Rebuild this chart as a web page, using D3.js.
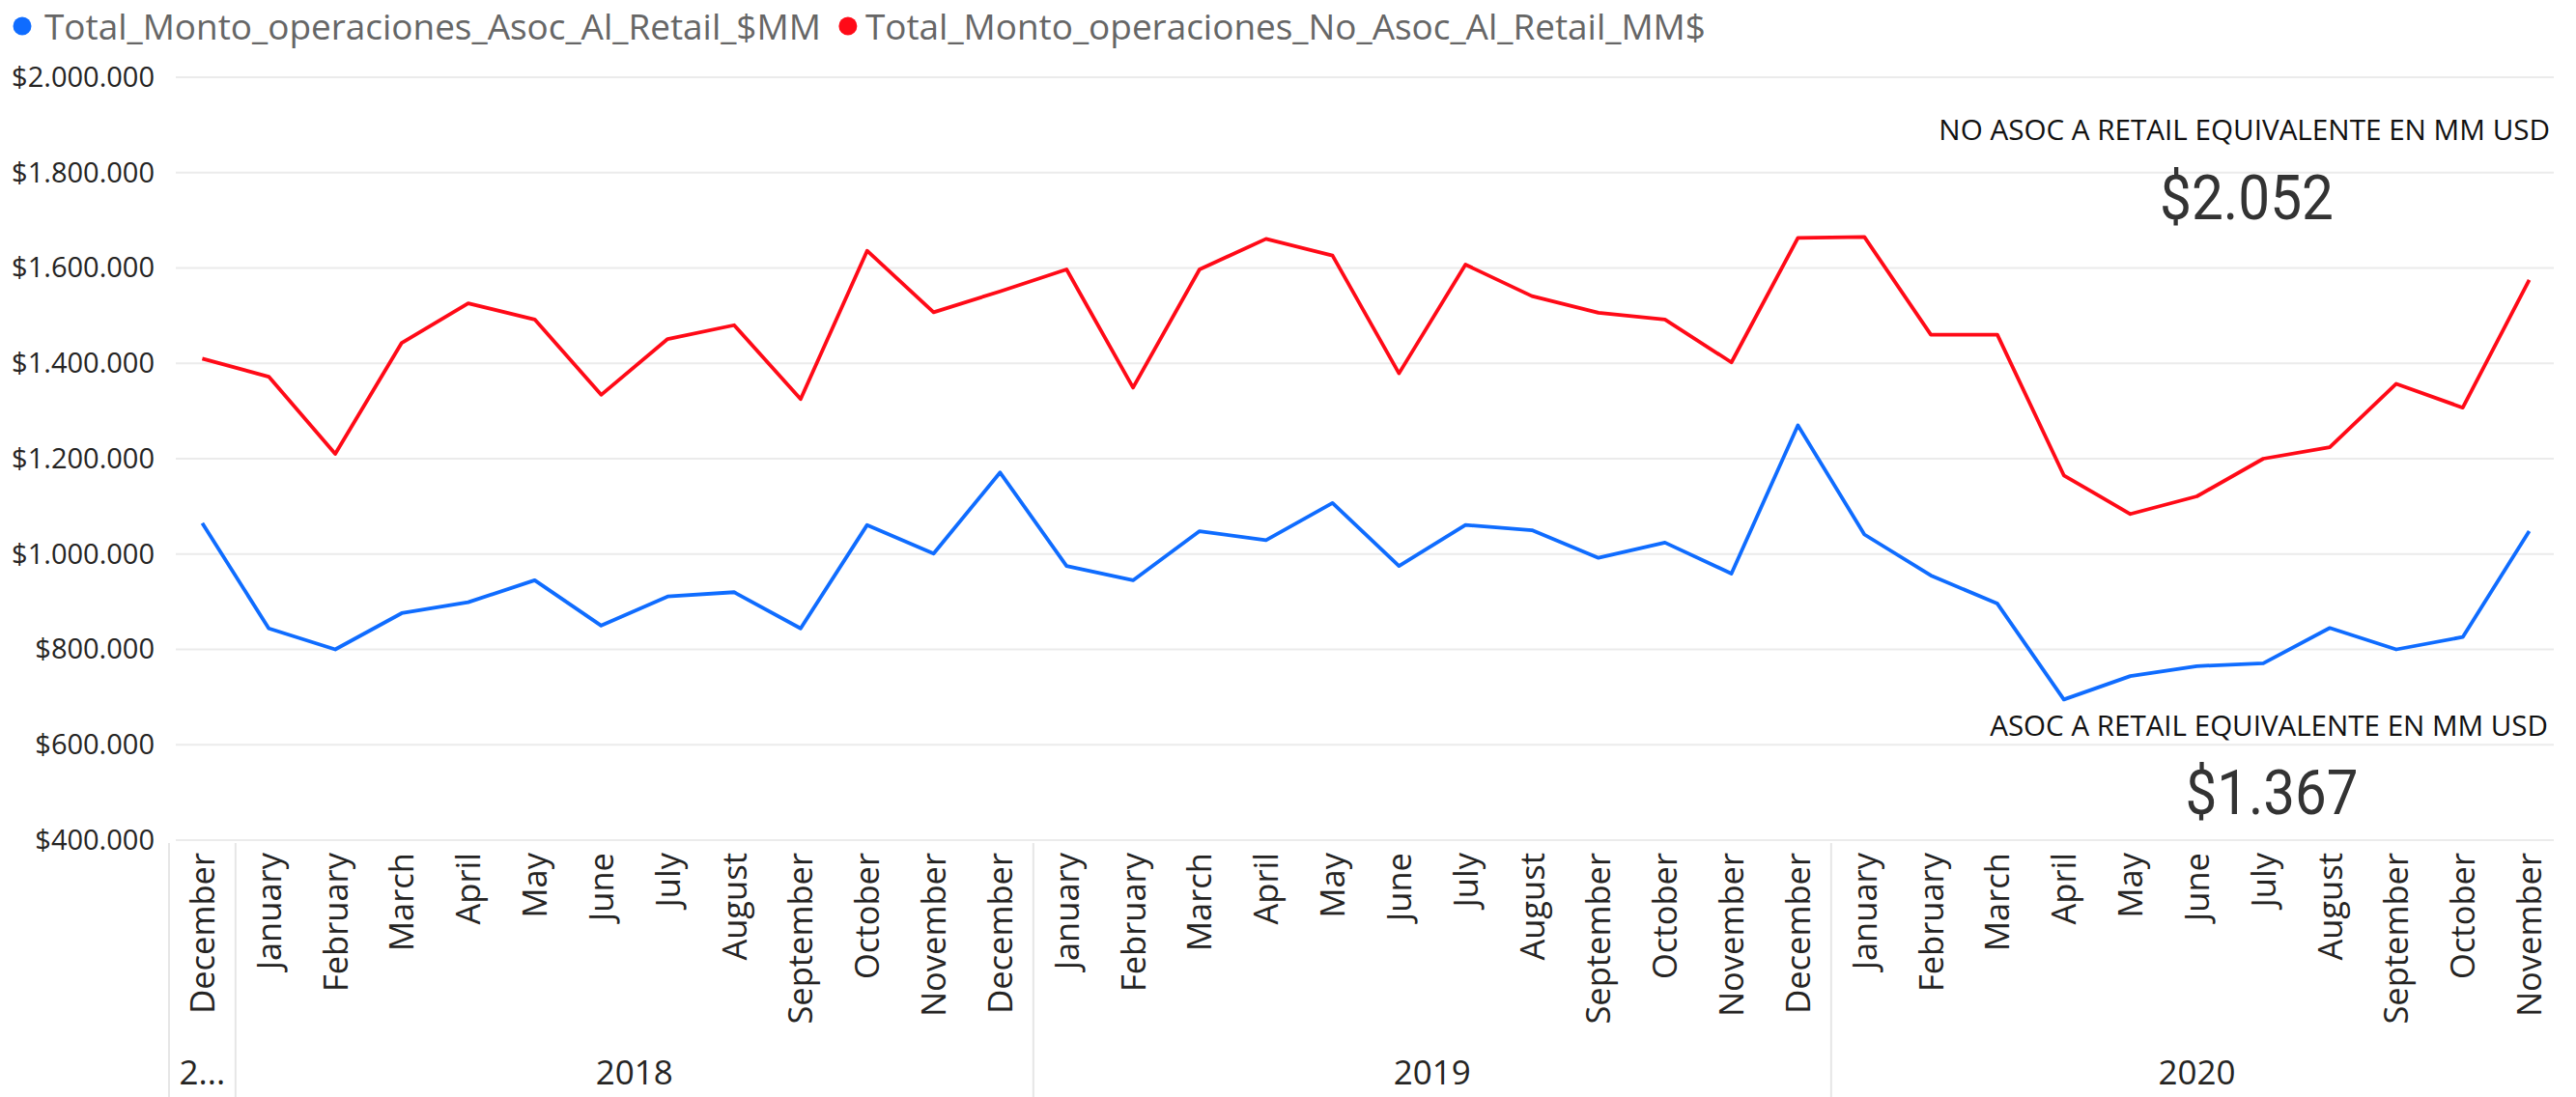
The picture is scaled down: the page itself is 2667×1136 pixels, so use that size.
<!DOCTYPE html>
<html>
<head>
<meta charset="utf-8">
<script src="https://cdnjs.cloudflare.com/ajax/libs/d3/7.8.5/d3.min.js"></script>
<style>
  body { margin: 0; background: #fff; }
  text { font-family: "Segoe UI", "Open Sans", sans-serif; }
</style>
</head>
<body>
<script>
//chart data
const monthLabels = [
  "December",
  "January", "February", "March", "April", "May", "June",
  "July", "August", "September", "October", "November", "December",
  "January", "February", "March", "April", "May", "June",
  "July", "August", "September", "October", "November", "December",
  "January", "February", "March", "April", "May", "June",
  "July", "August", "September", "October", "November"
];
const yearLabels = [
  "2017",
  "2018", "2018", "2018", "2018", "2018", "2018",
  "2018", "2018", "2018", "2018", "2018", "2018",
  "2019", "2019", "2019", "2019", "2019", "2019",
  "2019", "2019", "2019", "2019", "2019", "2019",
  "2020", "2020", "2020", "2020", "2020", "2020",
  "2020", "2020", "2020", "2020", "2020"
];
const asocRetail = [
  1065000,
  844000, 800000, 876000, 899000, 945000, 850000,
  911000, 920000, 844000, 1061000, 1001000, 1171000,
  975000, 945000, 1048000, 1029000, 1107000, 975000,
  1061000, 1050000, 992000, 1024000, 959000, 1270000,
  1041000, 955000, 896000, 695000, 744000, 765000,
  771000, 845000, 800000, 826000, 1048000
];
const noAsocRetail = [
  1410000,
  1372000, 1210000, 1443000, 1526000, 1492000, 1334000,
  1451000, 1480000, 1325000, 1636000, 1507000, 1551000,
  1597000, 1349000, 1597000, 1661000, 1626000, 1379000,
  1607000, 1541000, 1506000, 1492000, 1402000, 1663000,
  1665000, 1460000, 1460000, 1165000, 1084000, 1121000,
  1200000, 1224000, 1357000, 1307000, 1575000
];
const seriesNames = [
  "Total_Monto_operaciones_Asoc_Al_Retail_$MM",
  "Total_Monto_operaciones_No_Asoc_Al_Retail_MM$"
];
const yTicks = [400000, 600000, 800000, 1000000, 1200000, 1400000, 1600000, 1800000, 2000000];
const cardLabels = ["NO ASOC A RETAIL EQUIVALENTE EN MM USD", "ASOC A RETAIL EQUIVALENTE EN MM USD"];
const cardValues = [2052, 1367];

const colors = ["#0f6cff", "#ff0a17"];

//SVG setup
const width = 2667,
  height = 1136;
const plot = { left: 175, right: 2653, top: 80, bottom: 870, gridLeft: 182, gridRight: 2644 };

const svg = d3
  .select("body")
  .append("svg")
  .attr("width", width)
  .attr("height", height);

//spanish style number format
const locale = d3.formatLocale({ decimal: ",", thousands: ".", grouping: [3], currency: ["$", ""] });
const money = locale.format("$,.0f");

//scales
const idx = d3.range(monthLabels.length);
const x = d3.scaleBand().domain(idx).range([plot.left, plot.right]);
const y = d3.scaleLinear().domain([400000, 2000000]).range([plot.bottom, plot.top]);

//shrink or grow a text so it fills a given width
function fitWidth(sel, w) {
  const base = parseFloat(sel.style("font-size"));
  const len = sel.node().getComputedTextLength();
  sel.style("font-size", (base * w) / len + "px");
}

//gridlines
svg
  .append("g")
  .selectAll("line")
  .data(yTicks)
  .enter()
  .append("line")
  .attr("x1", plot.gridLeft)
  .attr("x2", plot.gridRight)
  .attr("y1", (d) => y(d))
  .attr("y2", (d) => y(d))
  .attr("stroke", "#ebebeb")
  .attr("stroke-width", 2);

//y axis
const yAxis = svg
  .append("g")
  .attr("transform", "translate(168,0)")
  .call(d3.axisLeft(y).tickValues(yTicks).tickFormat(money).tickSize(0).tickPadding(8));
yAxis.select(".domain").remove();
yAxis
  .selectAll("text")
  .style("font-family", '"Segoe UI", "Open Sans", sans-serif')
  .style("font-size", "29px")
  .attr("fill", "#252423");

//month labels
const xAxis = svg
  .append("g")
  .attr("transform", `translate(0, ${plot.bottom})`)
  .call(d3.axisBottom(x).tickFormat((i) => monthLabels[i]).tickSize(0));
xAxis.select(".domain").remove();
xAxis
  .selectAll("text")
  .style("font-family", '"Segoe UI", "Open Sans", sans-serif')
  .style("font-size", "34.5px")
  .attr("fill", "#252423")
  .attr("text-anchor", "end")
  .attr("transform", "rotate(-90)")
  .attr("x", -13)
  .attr("y", 0)
  .attr("dy", "0.36em");

//year groups
const yearGroups = d3.groups(idx, (i) => yearLabels[i]).map(([year, list]) => ({
  year: year,
  x0: x(list[0]),
  x1: x(list[list.length - 1]) + x.bandwidth()
}));

svg
  .append("g")
  .selectAll("line")
  .data(yearGroups)
  .enter()
  .append("line")
  .attr("x1", (d) => d.x0)
  .attr("x2", (d) => d.x0)
  .attr("y1", plot.bottom + 3)
  .attr("y2", height)
  .attr("stroke", "#e6e6e6")
  .attr("stroke-width", 2);

svg
  .append("g")
  .selectAll("text")
  .data(yearGroups)
  .enter()
  .append("text")
  .attr("x", (d) => (d.x0 + d.x1) / 2)
  .attr("y", 1123)
  .attr("text-anchor", "middle")
  .attr("fill", "#252423")
  .style("font-size", "35px")
  .text((d) => d.year)
  .each(function (d) {
    //truncate labels that do not fit their group
    const t = d3.select(this);
    let s = d.year;
    while (this.getComputedTextLength() > d.x1 - d.x0 - 20 && s.length > 1) {
      s = s.slice(0, -1);
      t.text(s + "...");
    }
  });

//lines
const line = d3
  .line()
  .x((d, i) => x(i) + x.bandwidth() / 2)
  .y((d) => y(d));

[asocRetail, noAsocRetail].forEach((values, k) => {
  svg
    .append("path")
    .datum(values)
    .attr("fill", "none")
    .attr("stroke", colors[k])
    .attr("stroke-width", 3.8)
    .attr("stroke-linejoin", "round")
    .attr("d", line);
});

//legend
const legend = svg.append("g");
const leg1 = legend
  .append("text")
  .attr("x", 46)
  .attr("y", 41)
  .attr("fill", "#666666")
  .style("font-size", "36px")
  .text(seriesNames[0]);
fitWidth(leg1, 804);
const leg1End = 46 + leg1.node().getComputedTextLength();
legend.append("circle").attr("cx", 23).attr("cy", 27).attr("r", 9.5).attr("fill", colors[0]);
legend
  .append("circle")
  .attr("cx", leg1End + 28)
  .attr("cy", 27)
  .attr("r", 9.5)
  .attr("fill", colors[1]);
legend
  .append("text")
  .attr("x", leg1End + 46)
  .attr("y", 41)
  .attr("fill", "#666666")
  .style("font-size", leg1.style("font-size"))
  .text(seriesNames[1]);

//cards
const cards = [
  { labelX: 2640, labelY: 145, labelW: 633, valueX: 2326, valueY: 227, valueW: 180 },
  { labelX: 2638, labelY: 762, labelW: 578, valueX: 2352, valueY: 843, valueW: 179 }
];
cards.forEach((c, k) => {
  const lab = svg
    .append("text")
    .attr("x", c.labelX)
    .attr("y", c.labelY)
    .attr("text-anchor", "end")
    .attr("fill", "#111")
    .style("font-size", "30px")
    .text(cardLabels[k]);
  fitWidth(lab, c.labelW);
  //narrow the number horizontally, like a condensed face
  const val = svg
    .append("text")
    .attr("x", 0)
    .attr("y", c.valueY)
    .attr("text-anchor", "middle")
    .attr("fill", "#333333")
    .style("font-family", '"DIN", Roboto, sans-serif')
    .style("font-size", "64px")
    .text(money(cardValues[k]));
  const len = val.node().getComputedTextLength();
  val.attr("transform", `translate(${c.valueX},0) scale(${c.valueW / len},1)`);
});
</script>
</body>
</html>
